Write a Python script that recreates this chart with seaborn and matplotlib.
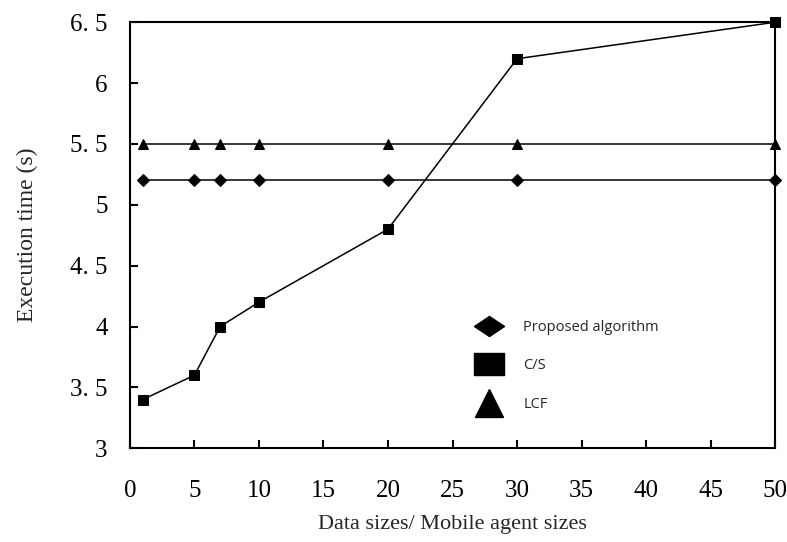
import matplotlib
matplotlib.use("Agg")
import matplotlib.pyplot as plt
import seaborn as sns
import pandas as pd
from matplotlib.lines import Line2D

x_vals = [1, 5, 7, 10, 20, 30, 50]
proposed = [5.2, 5.2, 5.2, 5.2, 5.2, 5.2, 5.2]
cs = [3.4, 3.6, 4.0, 4.2, 4.8, 6.2, 6.5]
lcf = [5.5, 5.5, 5.5, 5.5, 5.5, 5.5, 5.5]
series_names = ["Proposed algorithm", "C/S", "LCF"]
x_ticks = [0, 5, 10, 15, 20, 25, 30, 35, 40, 45, 50]
y_ticks = [3, 3.5, 4, 4.5, 5, 5.5, 6, 6.5]

sns.set_style("ticks")
plt.rcParams['font.family'] = ['Liberation Serif', 'DejaVu Serif']

df = pd.DataFrame({
    "x": x_vals * 3,
    "y": proposed + cs + lcf,
    "series": [series_names[0]] * 7 + [series_names[1]] * 7 + [series_names[2]] * 7,
})

fig = plt.figure(figsize=(7.87, 5.42), dpi=100)
ax = fig.add_axes([0.165, 0.173, 0.820, 0.786])

markers = {"Proposed algorithm": "D", "C/S": "s", "LCF": "^"}
sizes_m = {"Proposed algorithm": 6.5, "C/S": 6.5, "LCF": 7.5}
for name in series_names:
    sub = df[df["series"] == name]
    sns.lineplot(data=sub, x="x", y="y", ax=ax, color="black", linewidth=1.1,
                 marker=markers[name], markersize=sizes_m[name],
                 markeredgecolor="black", markerfacecolor="black", legend=False,
                 clip_on=False, zorder=3)

ax.set_xlim(0, 50)
ax.set_ylim(3, 6.5)
ax.set_xticks(x_ticks)
ax.set_yticks(y_ticks)
ax.set_xticklabels([str(t) for t in x_ticks])
ax.set_yticklabels([("%g" % t).replace(".", ". ") for t in y_ticks])
ax.tick_params(direction="in", length=6, width=1.5, labelsize=18,
               top=False, right=False, colors="black")
ax.tick_params(axis="x", pad=23)
ax.tick_params(axis="y", pad=16)
for s in ax.spines.values():
    s.set_linewidth(1.5)
    s.set_color("black")
    s.set_visible(True)

ax.set_xlabel("Data sizes/ Mobile agent sizes", fontsize=16, labelpad=9)
ax.set_ylabel("Execution time (s)", fontsize=17, labelpad=23)

diamond = [(-1, 0), (0, 0.67), (1, 0), (0, -0.67), (-1, 0)]
rect = [(-1, -0.73), (1, -0.73), (1, 0.73), (-1, 0.73), (-1, -0.73)]
leg_markers = {"Proposed algorithm": (diamond, 21.6), "C/S": (rect, 21.6), "LCF": ("^", 20)}
handles = [Line2D([], [], linestyle="none", marker=leg_markers[n][0], color="black",
                  markersize=leg_markers[n][1])
           for n in series_names]
leg = ax.legend(handles, series_names, loc="upper left",
                bbox_to_anchor=(474.5 / 787, 1 - 320 / 542), bbox_transform=fig.transFigure,
                frameon=False, handlelength=2.0, handletextpad=1.34, labelspacing=1.6,
                borderpad=0, borderaxespad=0,
                prop={"family": "Open Sans", "size": 10.5})

fig.savefig("out.png", dpi=100)
